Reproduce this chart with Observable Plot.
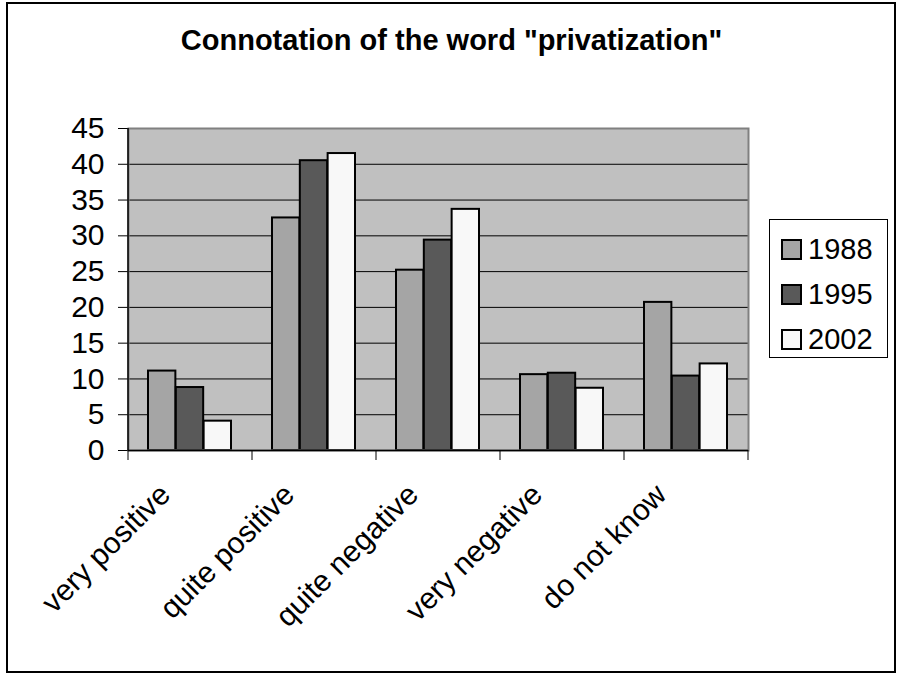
<!DOCTYPE html>
<html>
<head>
<meta charset="utf-8">
<script src="https://cdn.jsdelivr.net/npm/d3@7"></script>
<script src="https://cdn.jsdelivr.net/npm/@observablehq/plot@0.6"></script>
<style>
  body { margin: 0; background: #fff; }
  #wrap { position: relative; width: 898px; height: 676px; font-family: "Liberation Sans", Arial, sans-serif; color: #000; overflow: hidden; }
  #border { position: absolute; left: 6px; top: 2px; width: 890px; height: 671px; border: 2px solid #000; box-sizing: border-box; pointer-events: none; }
  #title { position: absolute; left: 0; top: 26px; width: 903px; text-align: center; font-size: 29px; line-height: 29px; font-weight: bold; }
  #chart { position: absolute; left: 0; top: 0; }
  #legend { position: absolute; left: 769px; top: 219px; width: 119px; height: 139px; border: 1.5px solid #000; box-sizing: border-box; background: #fff; }
  .row { position: absolute; left: 11px; height: 30px; display: flex; align-items: center; font-size: 29px; line-height: 30px; }
  .sw { width: 21px; height: 21px; border: 2px solid #000; box-sizing: border-box; margin-right: 6px; }
</style>
</head>
<body>
<div id="wrap">
  <div id="chart"></div>
  <div id="title"></div>
  <div id="legend"></div>
  <div id="border"></div>
</div>
<script>
const titleText = 'Connotation of the word "privatization"';
const categories = ["very positive", "quite positive", "quite negative", "very negative", "do not know"];
const years = ["1988", "1995", "2002"];
const v1988 = [11.1, 32.5, 25.2, 10.6, 20.7];
const v1995 = [8.8, 40.5, 29.4, 10.8, 10.4];
const v2002 = [4.1, 41.5, 33.7, 8.7, 12.1];
const yTicks = [0, 5, 10, 15, 20, 25, 30, 35, 40, 45];
const colors = ["#a5a5a5", "#595959", "#f8f8f8"];

const series = [v1988, v1995, v2002];
const rows = [];
years.forEach((yr, j) => categories.forEach((c, i) => rows.push({cat: c, year: yr, value: series[j][i]})));

const W = 898, H = 676, mL = 128, mR = 150, mT = 128, mB = 226;
const step = (W - mL - mR) / categories.length;
const pad = 0.327;
const bw = step * (1 - pad);
const w = bw / 3;

document.getElementById("title").textContent = titleText;

const barMarks = years.map((yr, i) => Plot.barY(rows.filter(r => r.year === yr), {
  x: "cat", y: "value", fill: colors[i], stroke: "#000", strokeWidth: 2,
  insetLeft: i * w, insetRight: (2 - i) * w
}));

const plot = Plot.plot({
  width: W, height: H,
  marginLeft: mL, marginRight: mR, marginTop: mT, marginBottom: mB,
  style: {fontFamily: "'Liberation Sans', Arial, sans-serif", fontSize: "30px", color: "#000", background: "transparent", overflow: "visible"},
  x: {domain: categories, axis: null, paddingInner: pad, paddingOuter: pad / 2},
  y: {domain: [0, 45], ticks: yTicks, tickSize: 10, tickPadding: 14, label: null, tickFormat: d => String(d)},
  marks: [
    Plot.frame({fill: "#c0c0c0"}),
    Plot.ruleY(yTicks.filter(t => t > 0 && t < 45), {stroke: "#000", strokeWidth: 1}),
    ...barMarks,
    Plot.frame({stroke: "#808080", strokeWidth: 2}),
    Plot.ruleX([categories[0]], {x: d => d, dx: -step / 2, stroke: "#000", strokeWidth: 1.5}),
    Plot.ruleY([0], {stroke: "#000", strokeWidth: 1.5}),
    Plot.ruleX(categories, {x: d => d, dx: -step / 2, y1: 0, y2: 0, insetBottom: -10, stroke: "#000", strokeWidth: 1}),
    Plot.ruleX([categories[categories.length - 1]], {x: d => d, dx: step / 2, y1: 0, y2: 0, insetBottom: -10, stroke: "#000", strokeWidth: 1}),
    Plot.text(categories, {x: d => d, frameAnchor: "bottom", text: d => d, rotate: -45, textAnchor: "end", dx: -18, dy: 46, fontSize: 30, fill: "#000"})
  ]
});
document.getElementById("chart").appendChild(plot);

const legend = document.getElementById("legend");
years.forEach((yr, i) => {
  const row = document.createElement("div");
  row.className = "row";
  row.style.top = (14 + i * 45) + "px";
  const sw = document.createElement("div");
  sw.className = "sw";
  sw.style.background = colors[i];
  const t = document.createElement("span");
  t.textContent = yr;
  row.appendChild(sw);
  row.appendChild(t);
  legend.appendChild(row);
});
</script>
</body>
</html>
